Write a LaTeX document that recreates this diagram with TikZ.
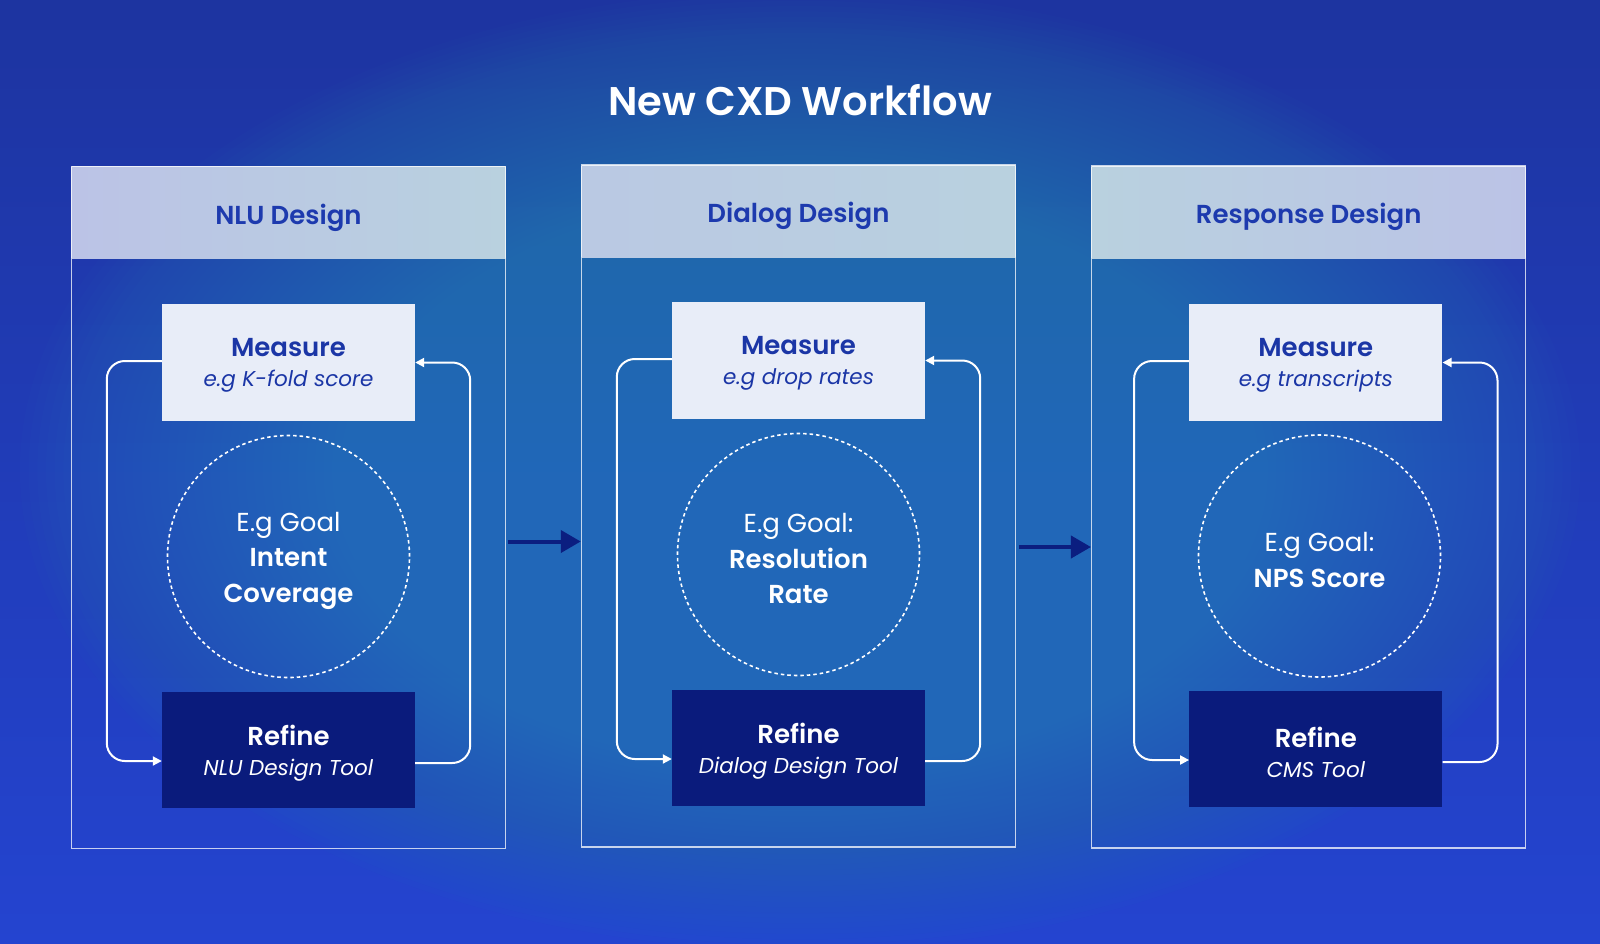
\documentclass[tikz,border=0pt]{standalone}
\usepackage{fontspec}
\setmainfont{Poppins}[BoldFont={Poppins SemiBold}, BoldItalicFont={Poppins SemiBold Italic}]
\usetikzlibrary{arrows.meta}
\definecolor{bgtop}{HTML}{1D34A0}
\definecolor{bgbot}{HTML}{2444D0}
\definecolor{glow}{HTML}{2186B8}
\definecolor{hdtext}{HTML}{1D3AAE}
\definecolor{hdleft}{HTML}{BBC3E6}
\definecolor{hdright}{HTML}{B9D1DF}
\definecolor{measfill}{HTML}{E8EDF8}
\definecolor{meastext}{HTML}{1B36A6}
\definecolor{refinefill}{HTML}{0A1B7C}
\definecolor{navy}{HTML}{0B1E80}
\tikzset{
  glowring/.style={fill=glow, fill opacity=0.031},
  panelbox/.style={draw=white, draw opacity=0.75, line width=1.5, minimum width=434, minimum height=682, inner sep=0},
  headerbox/.style={minimum width=434, minimum height=92, inner sep=0},
  headertext/.style={text=hdtext, font=\fontsize{26}{30}\selectfont\bfseries, inner sep=0},
  measurebox/.style={fill=measfill, minimum width=253, minimum height=117, inner sep=0},
  measuretext/.style={align=center, text=meastext, font=\fontsize{26}{30}\selectfont, inner sep=0},
  refinebox/.style={fill=refinefill, minimum width=253, minimum height=116, inner sep=0},
  refinetext/.style={align=center, text=white, font=\fontsize{26}{30}\selectfont, inner sep=0},
  goalcircle/.style={circle, draw=white, line width=1.6, dash pattern=on 3.5 off 3, minimum size=242, inner sep=0},
  goaltext/.style={align=center, text=white, font=\fontsize{26}{35.5}\selectfont, inner sep=0},
  loopline/.style={draw=white, line width=2, rounded corners=18, -{Triangle[length=9,width=9]}},
  flowarrow/.style={draw=navy, line width=4, -{Triangle[length=20,width=22]}}
}
\newcommand\subline[1]{{\fontsize{21.5}{30}\selectfont\itshape #1}}
\begin{document}
\begin{tikzpicture}[x=1pt,y=-1pt]
\useasboundingbox (0,0) rectangle (1600,943);
\shade[top color=bgtop, bottom color=bgbot] (0,0) rectangle (1600,943);
\foreach \i in {1,...,90}
  \fill[glowring] (800,470) ellipse [x radius={8.667*\i}, y radius={5.333*\i}];

\node[font=\fontsize{40}{44}\selectfont\bfseries, text=white, anchor=base] (title) at (800,115) {New CXD Workflow};

% Panel 1
\node[headerbox, left color=hdleft, right color=hdright] (h1) at (288.5,212.5) {};
\node[headertext] (h1t) at ([yshift=-5]h1.center) {NLU Design};
\node[panelbox] (p1) at (288.5,507.5) {};
\node[measurebox] (m1) at (288.5,362.5) {};
\node[measuretext] (m1t) at ([yshift=-3]m1.center) {\textbf{Measure}\\ \subline{e.g K-fold score}};
\node[goalcircle] (c1) at (288.5,556.5) {};
\node[goaltext] (c1t) at ([yshift=-4]c1.center) {E.g Goal\\ \textbf{Intent}\\ \textbf{Coverage}};
\node[refinebox] (r1) at (288.5,750) {};
\node[refinetext] (r1t) at ([yshift=-3]r1.center) {\textbf{Refine}\\ \subline{NLU Design Tool}};
\draw[loopline] ([yshift=1.5]m1.west) -- ++(-55,0) |- ([yshift=-11]r1.west);
\draw[loopline] ([yshift=-13]r1.east) -- ++(55,0) |- (m1.east);

% Panel 2
\node[headerbox, left color=hdleft!60!hdright, right color=hdright] (h2) at (798.5,211) {};
\node[headertext] (h2t) at ([yshift=-5]h2.center) {Dialog Design};
\node[panelbox] (p2) at (798.5,506) {};
\node[measurebox] (m2) at (798.5,360.5) {};
\node[measuretext] (m2t) at ([yshift=-3]m2.center) {\textbf{Measure}\\ \subline{e.g drop rates}};
\node[goalcircle] (c2) at (798.5,554.5) {};
\node[goaltext] (c2t) at ([yshift=-4]c2.center) {E.g Goal:\\ \textbf{Resolution}\\ \textbf{Rate}};
\node[refinebox] (r2) at (798.5,748) {};
\node[refinetext] (r2t) at ([yshift=-3]r2.center) {\textbf{Refine}\\ \subline{Dialog Design Tool}};
\draw[loopline] ([yshift=1.5]m2.west) -- ++(-55,0) |- ([yshift=-11]r2.west);
\draw[loopline] ([yshift=-13]r2.east) -- ++(55,0) |- (m2.east);

% Panel 3
\node[headerbox, left color=hdright, right color=hdleft] (h3) at (1308.7,212) {};
\node[headertext] (h3t) at ([yshift=-5]h3.center) {Response Design};
\node[panelbox] (p3) at (1308.7,507) {};
\node[measurebox] (m3) at (1315.8,362.5) {};
\node[measuretext] (m3t) at ([yshift=-3]m3.center) {\textbf{Measure}\\ \subline{e.g transcripts}};
\node[goalcircle] (c3) at (1319.5,556) {};
\node[goaltext] (c3t) at ([yshift=-4]c3.center) {E.g Goal:\\ \textbf{NPS Score}};
\node[refinebox] (r3) at (1315.8,749) {};
\node[refinetext] (r3t) at ([yshift=-3]r3.center) {\textbf{Refine}\\ \subline{CMS Tool}};
\draw[loopline] ([yshift=1.5]m3.west) -- ++(-55,0) |- ([yshift=-11]r3.west);
\draw[loopline] ([yshift=-13]r3.east) -- ++(55,0) |- (m3.east);

% Flow arrows
\draw[flowarrow] ([xshift=1.5,yshift=-34]p1.east) -- ([yshift=-34]p1.east -| p2.west);
\draw[flowarrow] ([xshift=2.5,yshift=-41]p2.east) -- ([yshift=-41]p2.east -| p3.west);
\end{tikzpicture}
\end{document}
